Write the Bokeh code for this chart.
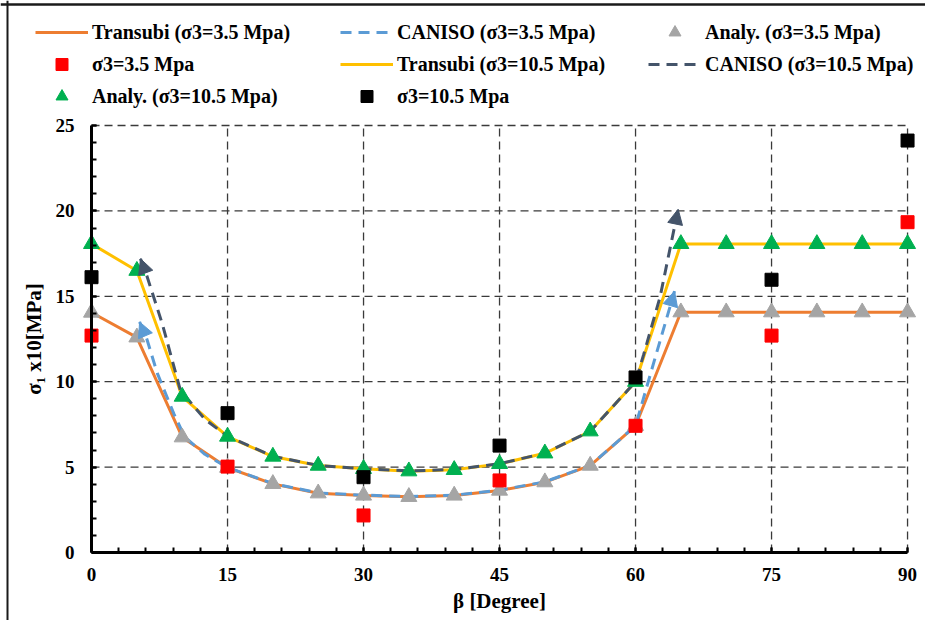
from bokeh.plotting import figure
from bokeh.models import Range1d, FixedTicker, Legend, LegendItem, Arrow, NormalHead, Span
from bokeh.embed import file_html
from bokeh.resources import INLINE

# Bedding-plane angle (degrees) for the model curves and analytical points
BETA = [0, 5, 10, 15, 20, 25, 30, 35, 40, 45, 50, 55, 60, 65, 70, 75, 80, 85, 90]

# Transubi model, sigma1 (x10 MPa)
TRANSUBI_35 = [14.05, 12.6, 6.75, 4.97, 4.02, 3.47, 3.34, 3.26, 3.34, 3.63, 4.12, 5.09, 7.42,
               14.07, 14.07, 14.07, 14.07, 14.07, 14.07]
TRANSUBI_105 = [18.07, 16.5, 9.13, 6.79, 5.62, 5.09, 4.9, 4.76, 4.84, 5.19, 5.81, 7.1, 10.0,
                18.07, 18.07, 18.07, 18.07, 18.07, 18.07]

# Analytical solution
ANALY_35 = [14.05, 12.6, 6.75, 4.97, 4.02, 3.47, 3.34, 3.26, 3.34, 3.63, 4.12, 5.09, 7.42,
            14.07, 14.07, 14.07, 14.07, 14.07, 14.07]
ANALY_105 = [18.07, 16.5, 9.13, 6.79, 5.62, 5.09, 4.9, 4.76, 4.84, 5.19, 5.81, 7.1, 10.0,
             18.07, 18.07, 18.07, 18.07, 18.07, 18.07]

# CANISO model curves
CANISO_35_BETA = [5.3, 6.1, 7.25, 9.1, 10.3, 12.5, 15, 20, 25, 30, 35, 40, 45, 50, 55, 60, 62, 64.3]
CANISO_35 = [13.5, 12.5, 10.5, 8.1, 6.75, 5.75, 4.98, 4.04, 3.49, 3.36, 3.28, 3.36, 3.65, 4.14,
             5.1, 7.42, 11.1, 15.3]
CANISO_105_BETA = [5.4, 6.1, 7.8, 9.8, 12.5, 15, 20, 25, 30, 35, 40, 45, 50, 55, 60, 60.9, 62.7,
                   64.0, 64.7]
CANISO_105 = [17.2, 16.2, 13.4, 9.5, 7.8, 6.8, 5.64, 5.1, 4.9, 4.78, 4.86, 5.2, 5.82, 7.1, 10.0,
              11.6, 14.95, 18.3, 20.1]

# Laboratory tests
EXP_BETA = [0, 15, 30, 45, 60, 75, 90]
EXP_35 = [12.7, 5.03, 2.17, 4.22, 7.42, 12.7, 19.34]
EXP_105 = [16.12, 8.16, 4.41, 6.26, 10.25, 15.97, 24.12]

X_TICKS = [0, 15, 30, 45, 60, 75, 90]
X_MINOR = list(range(0, 91, 3))
Y_TICKS = [0, 5, 10, 15, 20, 25]
Y_MINOR = list(range(0, 26))

FONT = "Liberation Serif"

# The frame fills the whole canvas; both axes are pinned at zero so that the
# legend block, tick labels and axis titles all sit inside it.
p = figure(width=925, height=620, x_range=Range1d(-10.04, 91.98), y_range=Range1d(-3.98, 32.32),
           output_backend="svg", toolbar_location=None,
           min_border_left=0, min_border_right=0, min_border_top=0, min_border_bottom=0)
p.outline_line_color = None
p.grid.visible = False
p.background_fill_color = "white"
p.border_fill_color = "white"

# chart-area border (left and top edges)
p.add_layout(Span(location=7, location_units="canvas", dimension="height",
                  line_color="#1a1a1a", line_width=2))
p.add_layout(Span(location=4, location_units="canvas", dimension="width",
                  line_color="#1a1a1a", line_width=2.5))

# dashed grid limited to the axis extent
grid_style = dict(line_color="#3a3a3a", line_width=1.3, line_dash="8 5")
p.segment(x0=[X_TICKS[0]] * (len(Y_TICKS) - 1), y0=Y_TICKS[1:],
          x1=[X_TICKS[-1]] * (len(Y_TICKS) - 1), y1=Y_TICKS[1:], **grid_style)
p.segment(x0=X_TICKS[1:], y0=[Y_TICKS[0]] * (len(X_TICKS) - 1),
          x1=X_TICKS[1:], y1=[Y_TICKS[-1]] * (len(X_TICKS) - 1), **grid_style)

# axes
p.xaxis.ticker = FixedTicker(ticks=X_TICKS, minor_ticks=X_MINOR)
p.yaxis.ticker = FixedTicker(ticks=Y_TICKS, minor_ticks=Y_MINOR)
p.xaxis.bounds = (X_TICKS[0], X_TICKS[-1])
p.yaxis.bounds = (Y_TICKS[0], Y_TICKS[-1])
p.xaxis.fixed_location = 0
p.yaxis.fixed_location = 0
p.xaxis.axis_label = "β [Degree]"
p.yaxis.axis_label = "σ₁ x10[MPa]"
for ax in (p.xaxis[0], p.yaxis[0]):
    ax.axis_line_width = 3
    ax.axis_line_color = "black"
    ax.major_tick_in = 5
    ax.major_tick_out = 0
    ax.minor_tick_in = 5
    ax.minor_tick_out = 0
    ax.major_tick_line_width = 2
    ax.minor_tick_line_width = 2
    ax.major_tick_line_color = "black"
    ax.minor_tick_line_color = "black"
    ax.major_label_text_font = FONT
    ax.major_label_text_font_style = "bold"
    ax.major_label_text_font_size = "19px"
    ax.major_label_text_color = "black"
    ax.axis_label_text_font = FONT
    ax.axis_label_text_font_style = "bold"
    ax.axis_label_text_font_size = "21px"
    ax.axis_label_text_color = "black"
p.xaxis.major_label_standoff = 15
p.xaxis.axis_label_standoff = 5
p.yaxis.major_label_standoff = 17
p.yaxis.axis_label_standoff = 7

ORANGE, BLUE, GRAY, RED = "#ED7D31", "#5B9BD5", "#A5A5A5", "#FF0000"
YELLOW, SLATE, GREEN, BLACK = "#FFC000", "#44546A", "#00B050", "#000000"
TRI, SQ = 16, 13

r_t35 = p.line(BETA, TRANSUBI_35, line_color=ORANGE, line_width=3)
r_c35 = p.line(CANISO_35_BETA, CANISO_35, line_color=BLUE, line_width=3, line_dash="11 7")
r_a35 = p.scatter(BETA, ANALY_35, marker="triangle", size=TRI, fill_color=GRAY, line_color=GRAY)
r_e35 = p.scatter(EXP_BETA, EXP_35, marker="square", size=SQ, fill_color=RED, line_color=RED)
r_t105 = p.line(BETA, TRANSUBI_105, line_color=YELLOW, line_width=3)
r_c105 = p.line(CANISO_105_BETA, CANISO_105, line_color=SLATE, line_width=3, line_dash="11 7")
r_a105 = p.scatter(BETA, ANALY_105, marker="triangle", size=TRI, fill_color=GREEN, line_color=GREEN)
r_e105 = p.scatter(EXP_BETA, EXP_105, marker="square", size=SQ, fill_color=BLACK, line_color=BLACK)


def end_arrows(xs, ys, color):
    # arrow heads on both ends of a CANISO curve
    for xa, ya, xb, yb in ((xs[1], ys[1], xs[0], ys[0]), (xs[-2], ys[-2], xs[-1], ys[-1])):
        p.add_layout(Arrow(x_start=xa, y_start=ya, x_end=xb, y_end=yb,
                           line_alpha=0, line_width=0,
                           end=NormalHead(size=15, fill_color=color, line_color=color, line_width=1)))


end_arrows(CANISO_35_BETA, CANISO_35, BLUE)
end_arrows(CANISO_105_BETA, CANISO_105, SLATE)


def add_legend(items, loc):
    lg = Legend(items=items, location=loc, orientation="vertical",
                glyph_width=53, glyph_height=30, label_height=30, spacing=2,
                padding=0, margin=0, label_standoff=4,
                border_line_alpha=0, background_fill_alpha=0,
                label_text_font=FONT, label_text_font_style="bold",
                label_text_font_size="20px", label_text_color="black")
    p.add_layout(lg, "center")


add_legend([LegendItem(label="Transubi (σ3=3.5 Mpa)", renderers=[r_t35]),
            LegendItem(label="σ3=3.5 Mpa", renderers=[r_e35]),
            LegendItem(label="Analy. (σ3=10.5 Mpa)", renderers=[r_a105])], (35, 509))
add_legend([LegendItem(label="CANISO (σ3=3.5 Mpa)", renderers=[r_c35]),
            LegendItem(label="Transubi (σ3=10.5 Mpa)", renderers=[r_t105]),
            LegendItem(label="σ3=10.5 Mpa", renderers=[r_e105])], (340, 509))
add_legend([LegendItem(label="Analy. (σ3=3.5 Mpa)", renderers=[r_a35]),
            LegendItem(label="CANISO (σ3=10.5 Mpa)", renderers=[r_c105])], (648, 541))

open("out.html", "w").write(file_html(p, INLINE))
